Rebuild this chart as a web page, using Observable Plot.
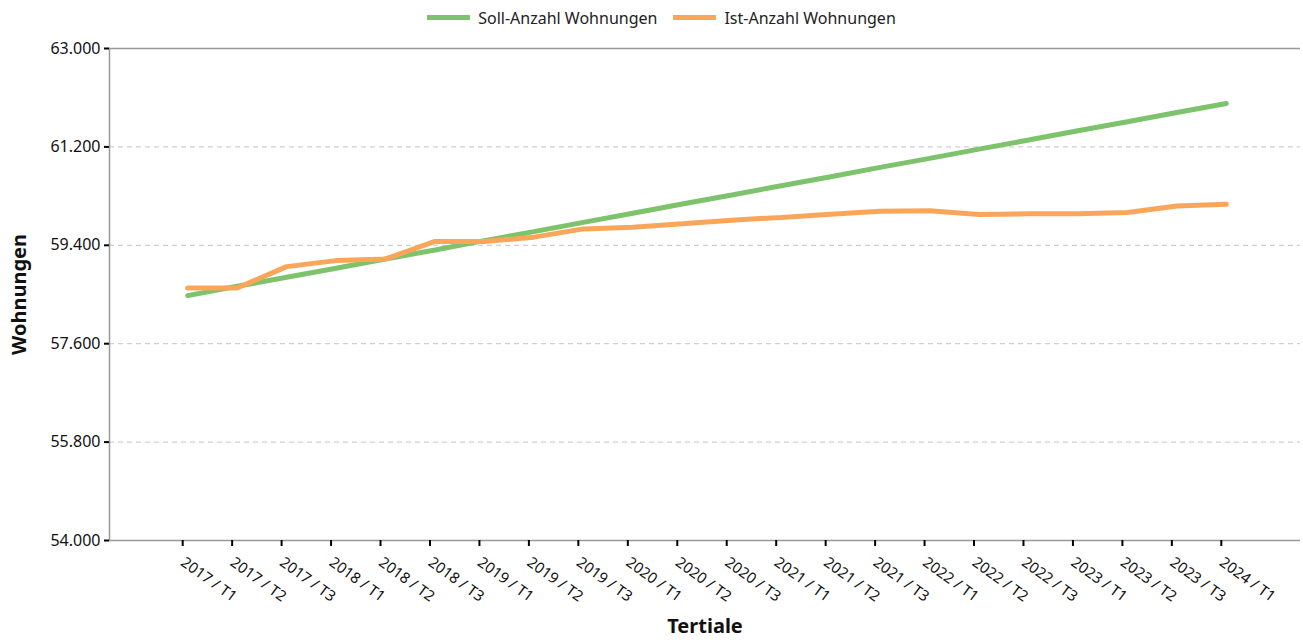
<!DOCTYPE html>
<html><head><meta charset="utf-8">
<script src="https://cdn.jsdelivr.net/npm/d3@7"></script>
<script src="https://cdn.jsdelivr.net/npm/@observablehq/plot@0.6"></script>
<style>
body{margin:0;background:#fff;font-family:"Noto Sans",sans-serif;}
#legend{height:35px;display:flex;justify-content:center;align-items:center;gap:16px;font-size:16px;color:#222;padding-left:20px;box-sizing:border-box;}
.item{display:flex;align-items:center;gap:8px;}
.sw{width:43px;height:5px;display:inline-block;}
</style></head>
<body>
<div id="legend"></div>
<div id="chart"></div>
<script>
const periods = ["2017 / T1","2017 / T2","2017 / T3","2018 / T1","2018 / T2","2018 / T3","2019 / T1","2019 / T2","2019 / T3","2020 / T1","2020 / T2","2020 / T3","2021 / T1","2021 / T2","2021 / T3","2022 / T1","2022 / T2","2022 / T3","2023 / T1","2023 / T2","2023 / T3","2024 / T1"];
const soll = [58480,58650,58815,58980,59150,59315,59485,59650,59820,59985,60155,60320,60490,60655,60825,60990,61160,61325,61495,61660,61830,61995];
const ist = [58620,58620,59010,59120,59150,59470,59470,59549,59700,59731,59795,59860,59910,59970,60024,60030,59965,59975,59975,60000,60120,60150];
const seriesNames = ["Soll-Anzahl Wohnungen","Ist-Anzahl Wohnungen"];
const seriesColors = ["#7dc36c","#faa65a"];
const yTicks = [54000,55800,57600,59400,61200,63000];
const xTitle = "Tertiale";
const yTitle = "Wohnungen";

const data = periods.flatMap((p,i)=>[
  {period:p, value:soll[i], series:seriesNames[0]},
  {period:p, value:ist[i], series:seriesNames[1]}
]);
const de = d3.formatLocale({decimal:",", thousands:".", grouping:[3], currency:["","€"]});
const fmt = de.format(",d");

const legend = document.getElementById("legend");
seriesNames.forEach((n,i)=>{
  const it = document.createElement("div"); it.className="item";
  const sw = document.createElement("span"); sw.className="sw"; sw.style.background=seriesColors[i];
  const t = document.createElement("span"); t.textContent=n;
  it.append(sw,t); legend.append(it);
});

const chart = Plot.plot({
  width:1303, height:609,
  marginLeft:109, marginRight:3, marginTop:13, marginBottom:104,
  style:{fontFamily:"Noto Sans", fontSize:"15px", color:"#111", background:"#fff"},
  x:{type:"point", domain:periods, padding:1.5, round:false, insetLeft:4, label:null},
  y:{domain:[54000,63000], label:null},
  color:{domain:seriesNames, range:seriesColors},
  marks:[
    Plot.ruleY(yTicks.slice(1,-1), {stroke:"#c4c4c4", strokeDasharray:"5,4"}),
    Plot.ruleY([yTicks[0], yTicks[yTicks.length-1]], {stroke:"#999", strokeWidth:1.5}),
    Plot.frame({anchor:"left", stroke:"#999", strokeWidth:1.5}),
    Plot.axisY({ticks:yTicks, tickFormat:fmt, tickSize:5, tickPadding:4, stroke:"#000", strokeWidth:2, label:null, fontSize:16}),
    Plot.axisX({tickRotate:36, tickSize:6, tickPadding:14, dx:-5, stroke:"#000", strokeWidth:2, label:null, fontSize:15}),
    Plot.line(data, {x:"period", y:"value", stroke:"series", strokeWidth:5, strokeLinejoin:"miter"}),
    Plot.text([xTitle], {frameAnchor:"bottom", dy:92, fontSize:20, fontWeight:"bold", fill:"#111"}),
    Plot.text([yTitle], {frameAnchor:"left", textAnchor:"middle", dx:-90, rotate:-90, fontSize:20, fontWeight:"bold", fill:"#111"})
  ]
});
document.getElementById("chart").append(chart);
</script>
</body></html>
